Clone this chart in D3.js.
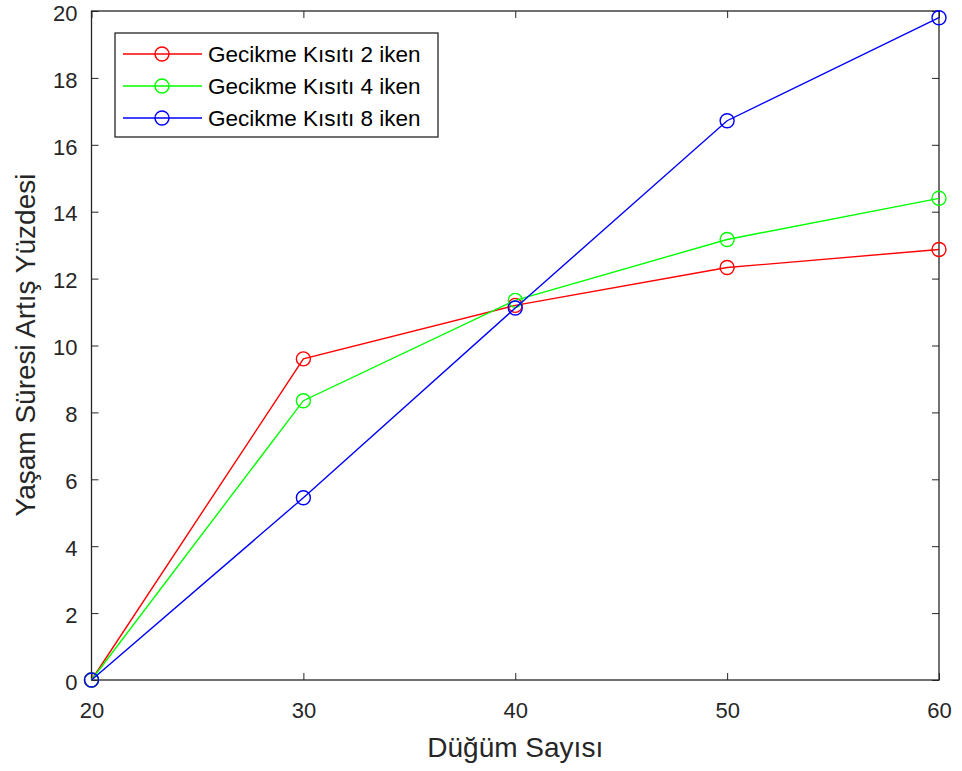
<!DOCTYPE html>
<html>
<head>
<meta charset="utf-8">
<script src="https://cdn.jsdelivr.net/npm/d3@7"></script>
<style>
  body { margin: 0; background: #fff; }
  svg { font-family: "Liberation Sans", Arial, sans-serif; }
</style>
</head>
<body>
<script>
(function() {

    const width = 962;
    const height = 771;

    // node counts on the x axis
    const nodeCounts = [20, 30, 40, 50, 60];

    // lifetime increase percentages, one array per delay constraint
    const delay2 = [0, 9.6, 11.2, 12.33, 12.87];
    const delay4 = [0, 8.35, 11.35, 13.17, 14.4];
    const delay8 = [0, 5.45, 11.12, 16.72, 19.8];

    const seriesNames = ["Gecikme Kısıtı 2 iken", "Gecikme Kısıtı 4 iken", "Gecikme Kısıtı 8 iken"];
    const seriesColors = ["#ff0000", "#00ff00", "#0000ff"];
    const allSeries = [delay2, delay4, delay8];

    const xTicks = [20, 30, 40, 50, 60];
    const yTicks = [0, 2, 4, 6, 8, 10, 12, 14, 16, 18, 20];

    const margin = {left: 91.5, right: width - 939, top: 11, bottom: height - 680};

    let svg = d3.select("body").append("svg")
        .attr("width", width)
        .attr("height", height);

    let x = d3.scaleLinear().domain([20, 60]).range([margin.left, width - margin.right]);
    let y = d3.scaleLinear().domain([0, 20]).range([height - margin.bottom, margin.top]);

    const axisColor = "#262626";
    const tickLen = 7;

    // bottom axis, ticks inside
    let xAxis = svg.append("g")
        .attr("transform", "translate(0," + y(0) + ")")
        .call(d3.axisBottom(x).tickValues(xTicks).tickSizeInner(-tickLen).tickSizeOuter(0));
    // top axis ticks only
    let xTop = svg.append("g")
        .attr("transform", "translate(0," + y(20) + ")")
        .call(d3.axisTop(x).tickValues(xTicks).tickSizeInner(-tickLen).tickSizeOuter(0).tickFormat(""));
    let yAxis = svg.append("g")
        .attr("transform", "translate(" + x(20) + ",0)")
        .call(d3.axisLeft(y).tickValues(yTicks).tickSizeInner(-tickLen).tickSizeOuter(0).tickPadding(14));
    let yRight = svg.append("g")
        .attr("transform", "translate(" + x(60) + ",0)")
        .call(d3.axisRight(y).tickValues(yTicks).tickSizeInner(-tickLen).tickSizeOuter(0).tickFormat(""));

    [xAxis, xTop, yAxis, yRight].forEach(function(g) {
        g.select(".domain").remove();
        g.selectAll(".tick line").attr("stroke", axisColor).attr("stroke-width", 1);
        g.selectAll(".tick text")
            .attr("fill", axisColor)
            .style("font-size", "22px")
            .style("font-family", "Liberation Sans, Arial, sans-serif");
    });
    xAxis.selectAll(".tick text").attr("y", 38).attr("dy", 0);
    yAxis.selectAll(".tick text").attr("dy", "0.42em");

    // axes box
    svg.append("rect")
        .attr("x", x(20))
        .attr("y", y(20))
        .attr("width", x(60) - x(20))
        .attr("height", y(0) - y(20))
        .attr("fill", "none")
        .attr("stroke", axisColor)
        .attr("stroke-width", 1.3);

    let line = d3.line()
        .x(function(d, i) { return x(nodeCounts[i]); })
        .y(function(d) { return y(d); });

    // draw each series with circle markers
    allSeries.forEach(function(values, k) {
        svg.append("path")
            .datum(values)
            .attr("d", line)
            .attr("fill", "none")
            .attr("stroke", seriesColors[k])
            .attr("stroke-width", 1.4);

        svg.selectAll(".marker" + k)
            .data(values)
            .enter()
            .append("circle")
            .attr("class", "marker" + k)
            .attr("cx", function(d, i) { return x(nodeCounts[i]); })
            .attr("cy", function(d) { return y(d); })
            .attr("r", 7)
            .attr("fill", "none")
            .attr("stroke", seriesColors[k])
            .attr("stroke-width", 1.4);
    });

    // axis labels
    svg.append("text")
        .attr("x", (x(20) + x(60)) / 2)
        .attr("y", 757)
        .attr("text-anchor", "middle")
        .attr("fill", axisColor)
        .style("font-size", "28px")
        .text("Düğüm Sayısı");

    svg.append("text")
        .attr("transform", "translate(35,345) rotate(-90)")
        .attr("text-anchor", "middle")
        .attr("fill", axisColor)
        .style("font-size", "28px")
        .text("Yaşam Süresi Artış Yüzdesi");

    // legend
    let legend = svg.append("g").attr("transform", "translate(115,33)");
    legend.append("rect")
        .attr("width", 323)
        .attr("height", 104)
        .attr("fill", "#fff")
        .attr("stroke", axisColor)
        .attr("stroke-width", 1.3);

    let items = legend.selectAll(".item")
        .data(seriesNames)
        .enter()
        .append("g")
        .attr("class", "item")
        .attr("transform", function(d, i) { return "translate(0," + (21 + i * 32) + ")"; });

    items.append("line")
        .attr("x1", 8).attr("x2", 87)
        .attr("stroke", function(d, i) { return seriesColors[i]; })
        .attr("stroke-width", 1.4);
    items.append("circle")
        .attr("cx", 47)
        .attr("r", 7)
        .attr("fill", "none")
        .attr("stroke", function(d, i) { return seriesColors[i]; })
        .attr("stroke-width", 1.4);
    items.append("text")
        .attr("x", 93)
        .attr("dy", "0.36em")
        .attr("fill", "#000")
        .style("font-size", "22.5px")
        .text(function(d) { return d; });

})();
</script>
</body>
</html>
